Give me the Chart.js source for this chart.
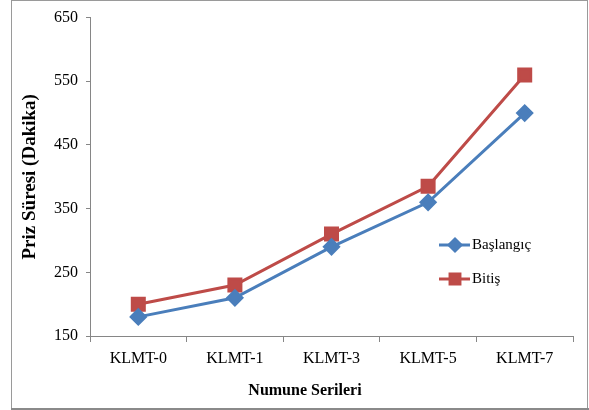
<!DOCTYPE html>
<html>
<head>
<meta charset="utf-8">
<script src="https://cdn.jsdelivr.net/npm/chart.js@4/dist/chart.umd.min.js"></script>
<style>
  html, body { margin: 0; padding: 0; background: #ffffff; }
  #wrap { width: 589px; height: 410px; }
</style>
</head>
<body>
<div id="wrap"><canvas id="c" width="589" height="410"></canvas></div>
<script>
const categories = ['KLMT-0', 'KLMT-1', 'KLMT-3', 'KLMT-5', 'KLMT-7'];
const seriesNames = ['Başlangıç', 'Bitiş'];
const baslangic = [180, 210, 290, 360, 500];
const bitis = [200, 230, 310, 385, 560];
const yTicks = [150, 250, 350, 450, 550, 650];
const yTitle = 'Priz Süresi (Dakika)';
const xTitle = 'Numune Serileri';

const SERIF = "'Liberation Serif', 'Times New Roman', serif";
const BLUE = '#4A7EBB';
const RED = '#BE4B48';
const AXIS = '#868686';

const framePlugin = {
  id: 'frame',
  afterDraw(chart) {
    const ctx = chart.ctx;
    ctx.save();
    ctx.strokeStyle = '#9a9a9a';
    ctx.lineWidth = 1;
    ctx.strokeRect(11.5, 0.5, 576, 408);
    ctx.strokeStyle = '#8a8a8a';
    ctx.lineWidth = 2;
    ctx.beginPath();
    ctx.moveTo(11, 409);
    ctx.lineTo(589, 409);
    ctx.stroke();
    // x axis title
    ctx.fillStyle = '#000';
    ctx.font = "bold 16px " + SERIF;
    ctx.textAlign = 'center';
    ctx.textBaseline = 'middle';
    ctx.fillText(xTitle, 305, 391);
    // legend
    const rows = [245, 279];
    const legendRadius = [6, 7];
    chart.data.datasets.forEach((ds, i) => {
      const y = rows[i];
      ctx.strokeStyle = ds.borderColor;
      ctx.lineWidth = ds.borderWidth;
      ctx.beginPath();
      ctx.moveTo(439, y);
      ctx.lineTo(470, y);
      ctx.stroke();
      Chart.helpers.drawPoint(ctx, {
        pointStyle: ds.pointStyle,
        radius: legendRadius[i],
        rotation: 0,
        borderWidth: 1
      }, 455, y);
      ctx.fillStyle = ds.pointBackgroundColor;
      ctx.fill();
      ctx.fillStyle = '#000';
      ctx.font = "15px " + SERIF;
      ctx.textAlign = 'left';
      ctx.textBaseline = 'middle';
      ctx.fillText(ds.label, 472, y);
    });
    ctx.restore();
  }
};

new Chart(document.getElementById('c'), {
  type: 'line',
  data: {
    labels: categories,
    datasets: [
      {
        label: seriesNames[0],
        data: baslangic,
        borderColor: BLUE,
        backgroundColor: BLUE,
        pointBackgroundColor: BLUE,
        pointBorderColor: BLUE,
        borderWidth: 3,
        pointStyle: 'rectRot',
        pointRadius: 7,
        pointHoverRadius: 7,
        tension: 0
      },
      {
        label: seriesNames[1],
        data: bitis,
        borderColor: RED,
        backgroundColor: RED,
        pointBackgroundColor: RED,
        pointBorderColor: RED,
        borderWidth: 3,
        pointStyle: 'rect',
        pointRadius: 8.5,
        pointHoverRadius: 8.5,
        tension: 0
      }
    ]
  },
  options: {
    responsive: false,
    animation: false,
    layout: { padding: { left: 12, right: 16, top: 15, bottom: 0 } },
    plugins: {
      legend: { display: false },
      tooltip: { enabled: false }
    },
    scales: {
      x: {
        offset: true,
        grid: {
          offset: true,
          drawOnChartArea: false,
          drawTicks: true,
          tickLength: 6,
          color: AXIS
        },
        border: { color: AXIS, width: 1 },
        ticks: {
          color: '#000',
          font: { family: SERIF, size: 16 },
          padding: 7,
          maxRotation: 0
        },
        afterFit(scale) { scale.height = 74; }
      },
      y: {
        min: 150,
        max: 650,
        afterBuildTicks(scale) { scale.ticks = yTicks.map(v => ({ value: v })); },
        grid: {
          drawOnChartArea: false,
          drawTicks: true,
          tickLength: 4,
          color: AXIS
        },
        border: { color: AXIS, width: 1 },
        ticks: {
          color: '#000',
          font: { family: SERIF, size: 16 },
          padding: 8
        },
        title: {
          display: true,
          text: yTitle,
          color: '#000',
          font: { family: SERIF, size: 19, weight: 'bold' },
          padding: { top: 7, bottom: 0 }
        },
        afterFit(scale) { scale.width = 78; }
      }
    }
  },
  plugins: [framePlugin]
});
</script>
</body>
</html>
